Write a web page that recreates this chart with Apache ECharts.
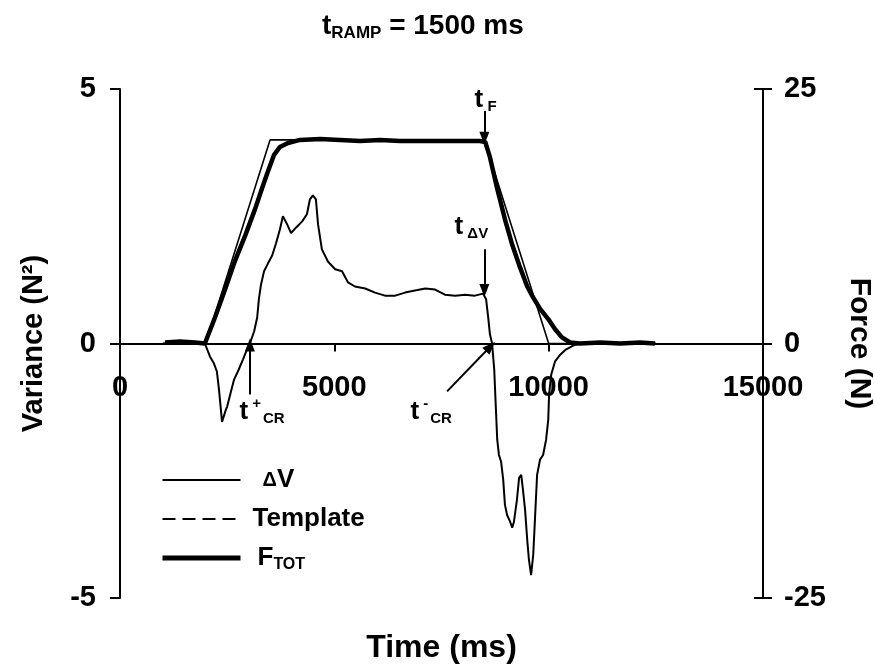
<!DOCTYPE html>
<html>
<head>
<meta charset="utf-8">
<script src="https://cdn.jsdelivr.net/npm/echarts@6/dist/echarts.min.js"></script>
<style>
  html, body { margin: 0; padding: 0; background: #fff; }
  #chart { width: 875px; height: 665px; }
</style>
</head>
<body>
<div id="chart"></div>
<script>
// Axis ranges (time in ms, variance in N², force in N)
const timeRange = [0, 15000];
const timeStep = 5000;
const varianceRange = [-5, 5];
const varianceStep = 5;
const forceRange = [-25, 25];
const forceStep = 25;

// ΔV trace: [time (ms), variance (N²)]
const deltaV = [
  [1000, 0], [1980, 0], [2100, -0.26], [2190, -0.39], [2260, -0.55], [2310, -0.91],
  [2380, -1.54], [2470, -1.30], [2500, -1.24], [2590, -0.94], [2660, -0.71],
  [2750, -0.55], [2870, -0.31], [2960, -0.12], [3030, 0], [3130, 0.24], [3200, 0.51],
  [3240, 0.87], [3290, 1.16], [3360, 1.42], [3450, 1.57], [3550, 1.73], [3640, 1.97],
  [3730, 2.24], [3800, 2.50], [3900, 2.34], [3990, 2.17], [4110, 2.28], [4250, 2.40],
  [4360, 2.54], [4430, 2.83], [4500, 2.91], [4570, 2.83], [4620, 2.34], [4710, 1.85],
  [4850, 1.61], [5020, 1.46], [5180, 1.42], [5320, 1.20], [5480, 1.12], [5720, 1.08],
  [5950, 1.00], [6180, 0.94], [6420, 0.94], [6650, 1.00], [6880, 1.04], [7120, 1.08],
  [7350, 1.06], [7580, 0.96], [7820, 0.94], [8050, 0.96], [8280, 0.94], [8470, 0.98],
  [8540, 0.87], [8590, 0.51], [8630, 0.18], [8680, 0], [8730, -0.51], [8770, -1.30],
  [8800, -1.89], [8840, -2.19], [8890, -2.32], [8940, -2.68], [8980, -3.17],
  [9030, -3.37], [9100, -3.50], [9150, -3.62], [9190, -3.50], [9260, -3.07],
  [9310, -2.64], [9360, -2.58], [9400, -2.87], [9450, -3.27], [9500, -3.86],
  [9540, -4.25], [9590, -4.55], [9640, -4.15], [9680, -3.46], [9730, -2.58],
  [9800, -2.28], [9870, -2.19], [9940, -1.89], [9990, -1.50], [10010, -1.00],
  [10060, -0.61], [10150, -0.35], [10270, -0.22], [10400, -0.12], [10570, -0.04],
  [10730, 0], [12500, 0]
];

// Total force F_TOT: [time (ms), force (N)]
const forceTotal = [
  [1050, 0.1], [1400, 0.2], [1750, 0.1], [1980, 0], [2220, 2.6], [2450, 5.3],
  [2680, 8.1], [2920, 10.6], [3150, 13.2], [3310, 15.2], [3450, 16.9], [3590, 18.5],
  [3730, 19.3], [3920, 19.7], [4200, 20.0], [4670, 20.1], [5130, 20.0], [5600, 19.9],
  [6070, 20.0], [6530, 19.9], [7000, 19.9], [7470, 19.9], [7930, 19.9], [8400, 19.9],
  [8520, 19.8], [8630, 18.3], [8800, 15.2], [8980, 12.2], [9150, 9.7], [9330, 7.5],
  [9500, 5.6], [9640, 4.5], [9800, 3.4], [9990, 2.4], [10150, 1.4], [10310, 0.6],
  [10500, 0.1], [10730, 0], [11200, 0.1], [11670, 0], [12130, 0.1], [12480, 0]
];

// Force template: 1500 ms ramps up to and down from a 20 N hold
const template = [
  [1000, 0], [2000, 0], [3500, 20], [8500, 20], [10000, 0], [12500, 0]
];

// Event times (ms)
const tF = 8500;
const tDV = 8500;
const tCRplus = 3030;
const tCRminus = 8680;

const FONT = "'Liberation Sans', Arial, sans-serif";
const BLACK = '#000';

const chart = echarts.init(document.getElementById('chart'), null, { renderer: 'canvas' });

const tickLabel = { color: BLACK, fontFamily: FONT, fontWeight: 'bold', fontSize: 29 };
const plainNumber = function (v) { return String(v); };
const annotRich = {
  t:  { fontFamily: FONT, fontWeight: 'bold', fontSize: 26, lineHeight: 30, color: BLACK },
  sb: { fontFamily: FONT, fontWeight: 'bold', fontSize: 15, lineHeight: 12, verticalAlign: 'bottom', color: BLACK },
  sp: { fontFamily: FONT, fontWeight: 'bold', fontSize: 15, lineHeight: 14, verticalAlign: 'top', color: BLACK, padding: [0, 2, 0, 4] }
};

const option = {
  animation: false,
  backgroundColor: '#fff',
  title: {
    left: 322, top: 10, padding: 0,
    text: '{t|t}{s|RAMP}{m| = 1500 ms}',
    textStyle: {
      rich: {
        t: { fontFamily: FONT, fontWeight: 'bold', fontSize: 28, lineHeight: 32, color: BLACK },
        s: { fontFamily: FONT, fontWeight: 'bold', fontSize: 17, lineHeight: 14, verticalAlign: 'bottom', color: BLACK },
        m: { fontFamily: FONT, fontWeight: 'bold', fontSize: 28, lineHeight: 32, color: BLACK }
      }
    }
  },
  grid: { left: 120, right: 112, top: 89, bottom: 67, containLabel: false, outerBoundsMode: 'none' },
  legend: {
    orient: 'vertical', left: 160, top: 467, padding: 0,
    itemWidth: 78, itemHeight: 14, itemGap: 13,
    selectedMode: false,
    itemStyle: { opacity: 0 },
    data: [
      { name: 'ΔV', lineStyle: { width: 2 } },
      { name: 'Template', lineStyle: { type: [13, 7], width: 2 } },
      { name: 'F_TOT', lineStyle: { width: 5 } }
    ],
    formatter: function (n) {
      if (n === 'ΔV') return '{d|Δ}{v|V}';
      if (n === 'Template') return '{tp|Template}';
      return '{f|F}{fs|TOT}';
    },
    textStyle: {
      rich: {
        d:  { fontFamily: FONT, fontWeight: 'bold', fontSize: 20, lineHeight: 30, color: BLACK, padding: [0, 0, 0, 17] },
        v:  { fontFamily: FONT, fontWeight: 'bold', fontSize: 26, lineHeight: 30, color: BLACK },
        tp: { fontFamily: FONT, fontWeight: 'bold', fontSize: 26, lineHeight: 30, color: BLACK, padding: [0, 0, 0, 7] },
        f:  { fontFamily: FONT, fontWeight: 'bold', fontSize: 26, lineHeight: 30, color: BLACK, padding: [0, 0, 0, 12] },
        fs: { fontFamily: FONT, fontWeight: 'bold', fontSize: 16, lineHeight: 14, verticalAlign: 'bottom', color: BLACK }
      }
    }
  },
  xAxis: {
    type: 'value', min: timeRange[0], max: timeRange[1], interval: timeStep,
    name: 'Time (ms)', nameLocation: 'middle', nameGap: 34,
    nameTextStyle: { color: BLACK, fontFamily: FONT, fontWeight: 'bold', fontSize: 32 },
    axisLine: { show: true, onZero: true, lineStyle: { color: BLACK, width: 2 } },
    axisTick: { show: true, length: 8, lineStyle: { color: BLACK, width: 2 } },
    // tick labels sit just under the zero line, well inside the plot
    axisLabel: Object.assign({ margin: -225, showMinLabel: true, showMaxLabel: true, formatter: plainNumber }, tickLabel),
    splitLine: { show: false }
  },
  yAxis: [
    {
      type: 'value', position: 'left', min: varianceRange[0], max: varianceRange[1], interval: varianceStep,
      name: 'Variance (N²)', nameLocation: 'middle', nameRotate: 90, nameGap: 72,
      nameTextStyle: { color: BLACK, fontFamily: FONT, fontWeight: 'bold', fontSize: 29 },
      axisLine: { show: true, onZero: false, lineStyle: { color: BLACK, width: 2 } },
      axisTick: { show: true, length: 10, lineStyle: { color: BLACK, width: 2 } },
      axisLabel: Object.assign({ margin: 24, formatter: plainNumber }, tickLabel),
      splitLine: { show: false }
    },
    {
      type: 'value', position: 'right', min: forceRange[0], max: forceRange[1], interval: forceStep,
      name: 'Force (N)', nameLocation: 'middle', nameRotate: -90, nameGap: 81,
      nameTextStyle: { color: BLACK, fontFamily: FONT, fontWeight: 'bold', fontSize: 30 },
      axisLine: { show: true, onZero: false, lineStyle: { color: BLACK, width: 2 } },
      axisTick: { show: true, length: 9, lineStyle: { color: BLACK, width: 2 } },
      axisLabel: Object.assign({ margin: 21, formatter: plainNumber }, tickLabel),
      splitLine: { show: false }
    },
    {
      // inner half of the crossing ticks on the force axis
      type: 'value', position: 'right', min: forceRange[0], max: forceRange[1], interval: forceStep,
      axisLine: { show: false, onZero: false },
      axisTick: { show: true, inside: true, length: 9, lineStyle: { color: BLACK, width: 2 } },
      axisLabel: { show: false },
      splitLine: { show: false }
    }
  ],
  series: [
    {
      name: 'ΔV', type: 'line', yAxisIndex: 0, data: deltaV,
      symbol: 'none', z: 3,
      lineStyle: { color: BLACK, width: 2 }, itemStyle: { color: BLACK },
      markLine: {
        silent: true, animation: false,
        symbol: ['none', 'triangle'], symbolSize: [10, 13],
        lineStyle: { color: BLACK, width: 2, type: 'solid' },
        label: { show: false },
        emphasis: { disabled: true },
        data: [
          [{ coord: [tF, 4.57] }, { coord: [tF, 4.03] }],
          [{ coord: [tDV, 1.85] }, { coord: [tDV, 1.04] }],
          [{ coord: [tCRplus, -1.0] }, { coord: [tCRplus, -0.03] }],
          [{ coord: [7630, -0.94] }, { coord: [tCRminus - 40, -0.06] }]
        ]
      },
      markPoint: {
        silent: true, animation: false,
        symbol: 'rect', symbolSize: 1,
        itemStyle: { color: 'rgba(0,0,0,0)' },
        label: { show: true, position: [0, 0], align: 'left', verticalAlign: 'middle', color: BLACK, rich: annotRich },
        emphasis: { disabled: true },
        data: [
          { coord: [8283, 4.78], label: { formatter: '{t|t}{sb| F}' } },
          { coord: [7816, 2.29], label: { formatter: '{t|t}{sb| ΔV}' } },
          { coord: [2800, -1.35], label: { formatter: '{t|t}{sp|+}{sb|CR}' } },
          { coord: [6790, -1.35], label: { formatter: '{t|t}{sp|-}{sb|CR}' } }
        ]
      }
    },
    {
      name: 'F_TOT', type: 'line', yAxisIndex: 1, data: forceTotal,
      symbol: 'none', z: 4,
      lineStyle: { color: BLACK, width: 4.5 }, itemStyle: { color: BLACK }
    },
    {
      name: 'Template', type: 'line', yAxisIndex: 1, data: template,
      symbol: 'none', z: 5,
      lineStyle: { color: BLACK, width: 1.6 }, itemStyle: { color: BLACK }
    }
  ]
};

chart.setOption(option);
</script>
</body>
</html>
